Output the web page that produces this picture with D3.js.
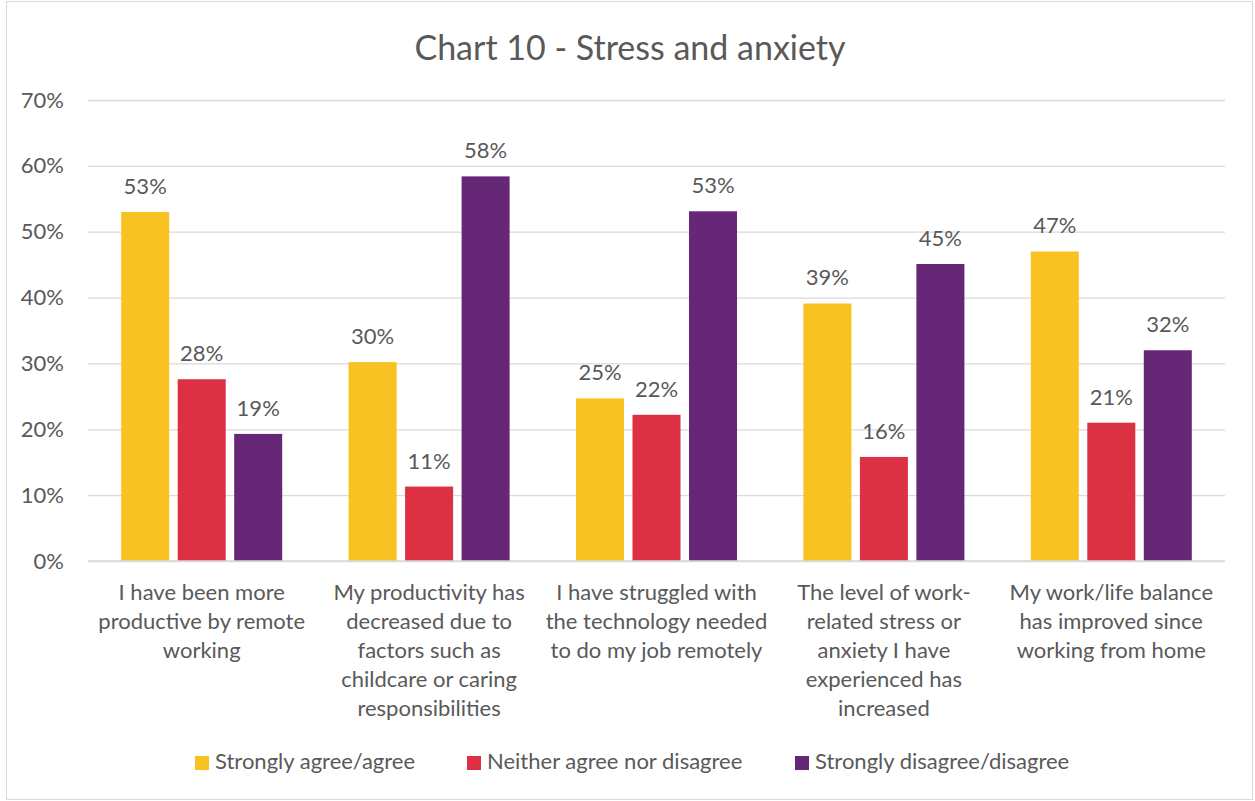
<!DOCTYPE html>
<html>
<head>
<meta charset="utf-8">
<script src="https://cdn.jsdelivr.net/npm/d3@7"></script>
<style>
  html, body { margin: 0; padding: 0; background: #fff; }
  svg { display: block; }
  text { font-family: Lato, "Open Sans", sans-serif; fill: #595959; }
</style>
</head>
<body>
<svg id="chart" width="1255" height="801"></svg>
<script>
const title = "Chart 10 - Stress and anxiety";
const categories = [
  ["I have been more", "productive by remote", "working"],
  ["My productivity has", "decreased due to", "factors such as", "childcare or caring", "responsibilities"],
  ["I have struggled with", "the technology needed", "to do my job remotely"],
  ["The level of work-", "related stress or", "anxiety I have", "experienced has", "increased"],
  ["My work/life balance", "has improved since", "working from home"]
];
const seriesNames = ["Strongly agree/agree", "Neither agree nor disagree", "Strongly disagree/disagree"];
const seriesColors = ["#F8C322", "#DC3142", "#662776"];
const agree    = [53.0, 30.2, 24.7, 39.1, 47.0];
const neither  = [27.6, 11.3, 22.2, 15.8, 21.0];
const disagree = [19.3, 58.4, 53.1, 45.1, 32.0];
const yTicks = [0, 10, 20, 30, 40, 50, 60, 70];

(function () {
const seriesValues = [agree, neither, disagree];
const catIdx = categories.map((c, i) => i);

const svg = d3.select("#chart");
const W = 1255, H = 801;
const pL = 88, pR = 1225, pT = 100, pB = 561;
const fs = "22px";

svg.append("rect").attr("x", 6.5).attr("y", 1.5).attr("width", W - 9).attr("height", H - 3)
  .attr("fill", "#fff").attr("stroke", "#D9D9D9").attr("stroke-width", 1);

svg.append("text").attr("x", 630).attr("y", 60).attr("text-anchor", "middle")
  .style("font-size", "34px").text(title);

const y = d3.scaleLinear().domain([0, 70]).range([pB, pT]);
const x0 = d3.scaleBand().domain(catIdx).range([pL, pR]).padding(0);
const x1 = d3.scaleBand().domain(d3.range(seriesNames.length)).range([0, x0.bandwidth()])
  .paddingInner(0.15).paddingOuter(0.5875);

const yAxis = d3.axisLeft(y).tickValues(yTicks).tickFormat(d => d + "%").tickSize(-(pR - pL)).tickPadding(24);
const gy = svg.append("g").attr("transform", `translate(${pL},0)`).call(yAxis);
gy.select(".domain").remove();
gy.selectAll(".tick line").attr("stroke", "#D9D9D9").attr("stroke-width", 1.3);
gy.selectAll(".tick text").style("font-size", fs).attr("fill", "#595959")
  .style("font-family", "Lato, 'Open Sans', sans-serif");

const groups = svg.append("g").selectAll("g").data(catIdx).join("g")
  .attr("transform", i => `translate(${x0(i)},0)`);
groups.selectAll("rect").data(i => seriesValues.map((s, k) => ({k, v: s[i]}))).join("rect")
  .attr("x", d => x1(d.k)).attr("width", x1.bandwidth())
  .attr("y", d => y(d.v)).attr("height", d => y(0) - y(d.v))
  .attr("fill", d => seriesColors[d.k]);
groups.selectAll("text.lbl").data(i => seriesValues.map((s, k) => ({k, v: s[i]}))).join("text")
  .attr("class", "lbl")
  .attr("x", d => x1(d.k) + x1.bandwidth() / 2).attr("y", d => y(d.v) - 18)
  .attr("text-anchor", "middle").style("font-size", fs)
  .text(d => Math.round(d.v) + "%");

svg.append("line").attr("x1", pL).attr("x2", pR).attr("y1", y(0)).attr("y2", y(0))
  .attr("stroke", "#D9D9D9").attr("stroke-width", 1.3);

const cl = svg.append("g").selectAll("text").data(catIdx).join("text")
  .attr("x", i => x0(i) + x0.bandwidth() / 2).attr("y", 600)
  .attr("text-anchor", "middle").style("font-size", fs);
cl.selectAll("tspan").data(i => categories[i]).join("tspan")
  .attr("x", function() { return d3.select(this.parentNode).attr("x"); })
  .attr("dy", (d, j) => j === 0 ? 0 : 29).text(d => d);

const legendX = [195, 467, 795];
const lg = svg.append("g").selectAll("g").data(seriesNames).join("g")
  .attr("transform", (d, k) => `translate(${legendX[k]},0)`);
lg.append("rect").attr("x", 0).attr("y", 756).attr("width", 14).attr("height", 14)
  .attr("fill", (d, k) => seriesColors[k]);
lg.append("text").attr("x", 20).attr("y", 769).style("font-size", fs).text(d => d);
})();
</script>
</body>
</html>
